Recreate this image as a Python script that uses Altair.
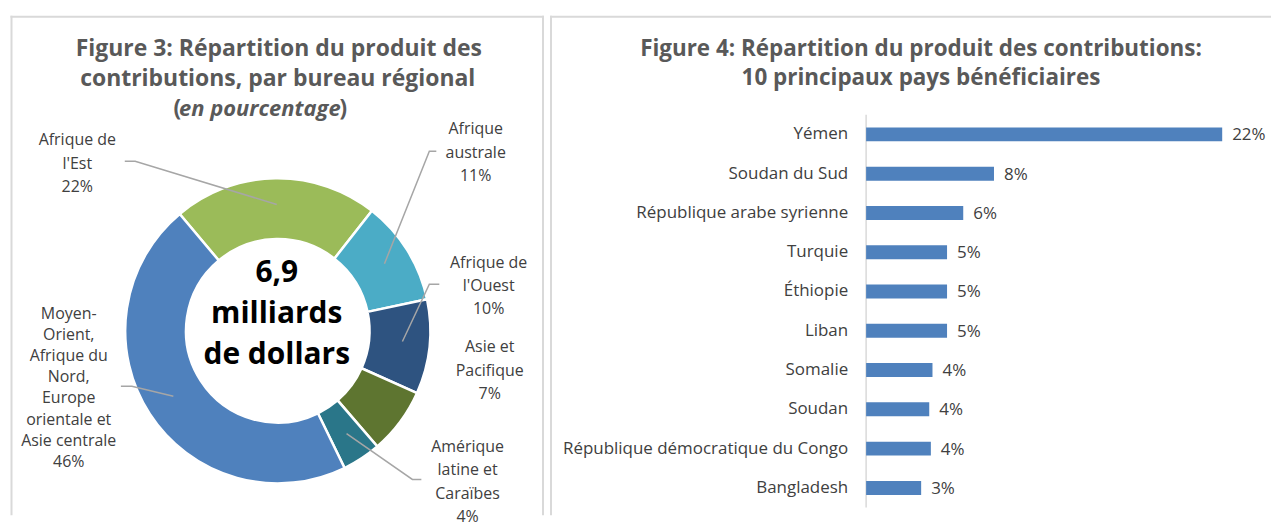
import altair as alt
import pandas as pd
import numpy as np

# ---------------- data: Figure 3 (donut) ----------------
regions = [
    "Afrique de l'Est",
    "Afrique australe",
    "Afrique de l'Ouest",
    "Asie et Pacifique",
    "Amérique latine et Caraïbes",
    "Moyen-Orient, Afrique du Nord, Europe orientale et Asie centrale",
]
region_label_lines = [
    "Afrique de\nl'Est",
    "Afrique\naustrale",
    "Afrique de\nl'Ouest",
    "Asie et\nPacifique",
    "Amérique\nlatine et\nCaraïbes",
    "Moyen-\nOrient,\nAfrique du\nNord,\nEurope\norientale et\nAsie centrale",
]
region_values = [21.7, 11.1, 10.0, 7.0, 4.1, 46.1]
region_colors = ["#9BBB59", "#4BACC6", "#2E5380", "#5E7530", "#2A7689", "#4F81BD"]
center_text = "6,9\nmilliards\nde dollars"
title3_lines = ["Figure 3: Répartition du produit des", "contributions, par bureau régional"]
title3_italic = "en pourcentage"

# ---------------- data: Figure 4 (bars) ----------------
countries = [
    "Yémen",
    "Soudan du Sud",
    "République arabe syrienne",
    "Turquie",
    "Éthiopie",
    "Liban",
    "Somalie",
    "Soudan",
    "République démocratique du Congo",
    "Bangladesh",
]
country_values = [22.0, 7.9, 6.0, 5.0, 5.0, 5.0, 4.1, 3.9, 4.0, 3.4]
title4_lines = ["Figure 4: Répartition du produit des contributions:", "10 principaux pays bénéficiaires"]

# ---------------- layout (pixels, panel-relative) ----------------
LW, RW, H = 535, 723, 501
CX, CY = 268, 316              # donut centre
R_OUT, R_IN = 153, 92
START_DEG = -40
LABEL_X = [67, 466.5, 479.5, 480.5, 458.4, 58.4]
LABEL_Y = [125, 114, 247.7, 332.7, 432.7, 299]   # first-line centres
LEADERS = {
    0: [(114.6, 146), (125, 146), (267, 189.3)],
    1: [(427, 136), (420, 136), (375, 248.7)],
    2: [(430, 269.3), (420, 269.3), (393, 326.7)],
    4: [(412, 465), (403, 465), (337, 419)],
    5: [(110.7, 371.7), (121.7, 371.7), (163.3, 381.7)],
}
BAR_BASE, PX_PER_UNIT = 317, 16.23
ROW_STEP, FIRST_ROW = 39.39, 119.0
BAR_SIZE = 14

FONT = "Open Sans"
TXT = "#404040"
TITLE_C = "#595959"
BORDER = "#d9d9d9"
one = pd.DataFrame({"a": [0]})


def border(x=None, y=None, x2=None, y2=None):
    enc = {}
    for k, v in (("x", x), ("y", y), ("x2", x2), ("y2", y2)):
        if v is not None:
            enc[k] = alt.value(v)
    return alt.Chart(one).mark_rule(color=BORDER, strokeWidth=2).encode(**enc)


def label(text, x, y, **kw):
    style = dict(fontSize=23, fontWeight="bold", font=FONT, color=TITLE_C, baseline="middle", align="center")
    style.update(kw)
    return alt.Chart(pd.DataFrame({"t": [text]})).mark_text(**style).encode(
        x=alt.value(x), y=alt.value(y), text="t:N"
    )


# ---------------- left panel ----------------
reg_df = pd.DataFrame({"region": regions, "value": region_values, "ord": list(range(len(regions)))})
start = float(np.deg2rad(START_DEG))

arc = alt.Chart(reg_df).mark_arc(
    innerRadius=R_IN, outerRadius=R_OUT, stroke="white", strokeWidth=2.5
).encode(
    theta=alt.Theta("value:Q", stack=True, scale=alt.Scale(range=[start, start + 2 * float(np.pi)])),
    color=alt.Color("region:N", scale=alt.Scale(domain=regions, range=region_colors), legend=None),
    order=alt.Order("ord:Q"),
    x=alt.value(CX),
    y=alt.value(CY),
)

xs = alt.Scale(domain=[0, LW], nice=False, zero=False, padding=0)
ys = alt.Scale(domain=[0, H], nice=False, zero=False, reverse=True, padding=0)

lab_text = [f"{l}\n{round(v)}%" for l, v in zip(region_label_lines, region_values)]
lab_df = pd.DataFrame({"t": lab_text, "x": LABEL_X, "y": LABEL_Y, "grp": [0, 0, 0, 0, 0, 1]})

labels_a = alt.Chart(lab_df).transform_filter("datum.grp == 0").mark_text(
    lineBreak="\n", lineHeight=23.3, fontSize=16, font=FONT, color=TXT, baseline="middle", align="center"
).encode(x=alt.X("x:Q", scale=xs, axis=None), y=alt.Y("y:Q", scale=ys, axis=None), text="t:N")
labels_b = alt.Chart(lab_df).transform_filter("datum.grp == 1").mark_text(
    lineBreak="\n", lineHeight=21.2, fontSize=16, font=FONT, color=TXT, baseline="middle", align="center"
).encode(x=alt.X("x:Q", scale=xs, axis=None), y=alt.Y("y:Q", scale=ys, axis=None), text="t:N")

rows = []
for k, pts in LEADERS.items():
    for i, (px, py) in enumerate(pts):
        rows.append({"id": k, "seq": i, "x": px, "y": py})
lead_df = pd.DataFrame(rows)
leaders = alt.Chart(lead_df).mark_line(color="#a6a6a6", strokeWidth=1.5).encode(
    x=alt.X("x:Q", scale=xs, axis=None),
    y=alt.Y("y:Q", scale=ys, axis=None),
    detail="id:N",
    order="seq:Q",
)

center = alt.Chart(pd.DataFrame({"t": [center_text]})).mark_text(
    lineBreak="\n", lineHeight=41, fontSize=30, fontWeight="bold", font=FONT, color="#000000",
    baseline="middle", align="center"
).encode(x=alt.value(CX - 1), y=alt.value(258), text="t:N")

title3 = [
    label(title3_lines[0], 269, 33),
    label(title3_lines[1], 268, 63),
    label(title3_italic, 250, 94, fontStyle="italic", fontSize=22),
    label("(", 171, 94, align="right", fontSize=22.5),
    label(")", 330, 94, align="left", fontSize=22.5),
]

left = alt.layer(
    border(x=1, y=0, y2=H), border(x=LW - 1, y=0, y2=H), border(y=1, x=0, x2=LW),
    arc, leaders, labels_a, labels_b, center, *title3
).properties(width=LW, height=H)

# ---------------- right panel ----------------
cty_df = pd.DataFrame({
    "country": countries,
    "value": country_values,
    "label": [f"{round(v)}%" for v in country_values],
    "rank": list(range(len(countries))),
})
xscale = alt.Scale(domain=[-BAR_BASE / PX_PER_UNIT, (RW - BAR_BASE) / PX_PER_UNIT], nice=False, zero=False, padding=0)
y0 = -FIRST_ROW / ROW_STEP
yscale = alt.Scale(domain=[y0, y0 + H / ROW_STEP], nice=False, zero=False, reverse=True, padding=0)

ybase = alt.Y("rank:Q", scale=yscale, axis=None)
bars = alt.Chart(cty_df).mark_bar(color="#4F81BD", orient="horizontal", size=BAR_SIZE).encode(
    y=ybase, x=alt.X("value:Q", scale=xscale, axis=None)
)
vals = alt.Chart(cty_df).mark_text(
    align="left", dx=10, dy=1, fontSize=17, font=FONT, color=TXT, baseline="middle"
).encode(y=ybase, x=alt.X("value:Q", scale=xscale, axis=None), text="label:N")
cats = alt.Chart(cty_df).mark_text(
    align="right", fontSize=17, font=FONT, color=TXT, baseline="middle"
).encode(y=ybase, x=alt.value(BAR_BASE - 18), text="country:N")
axis_line = alt.Chart(one).mark_rule(color=BORDER, strokeWidth=1.5).encode(
    x=alt.value(BAR_BASE), y=alt.value(FIRST_ROW - ROW_STEP / 2), y2=alt.value(FIRST_ROW + 9.5 * ROW_STEP)
)
title4 = [label(title4_lines[0], 372, 33, fontSize=22.5), label(title4_lines[1], 372, 62, fontSize=22.5)]

right = alt.layer(
    border(x=1, y=0, y2=H), border(y=1, x=0, x2=RW), axis_line, bars, vals, cats, *title4
).properties(width=RW, height=H)

chart = alt.hconcat(left, right, spacing=4).properties(
    padding={"left": 1.5, "top": 6, "right": 0, "bottom": 0}
).configure_view(strokeWidth=0)

chart.save("out.html", embed_options={"renderer": "svg", "actions": False})
